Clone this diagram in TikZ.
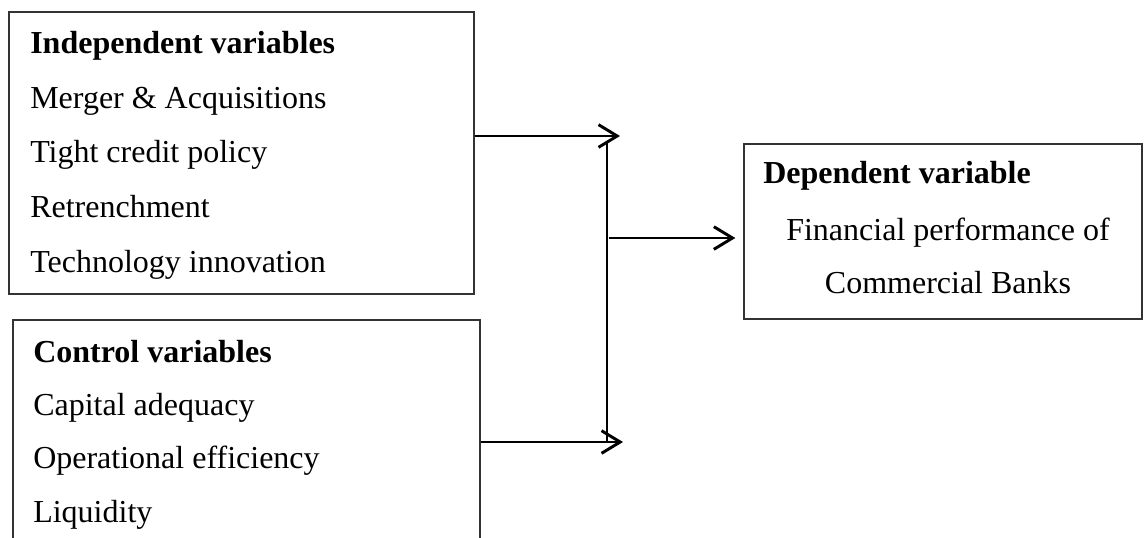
\documentclass[tikz,border=0pt]{standalone}
\usepackage{fontspec}
\setmainfont{Liberation Serif}
\usetikzlibrary{positioning,fit,arrows.meta}
\tikzset{
varbox/.style={
  draw=black!80,
  line width=1pt,
  inner sep=0pt
  },
vartext/.style={
  align=#1,
  inner sep=0pt,
  font=\fontsize{24}{41}\selectfont
  },
link/.style={
  line width=2.2pt,
  -{Straight Barb[length=14pt,width=17pt]}
  }
}

\begin{document}
\begin{tikzpicture}[x=0.75pt,y=-0.75pt]
\useasboundingbox (0,0) rectangle (1144,537);

% boxes
\node[varbox,fit={(9,12) (474,294)}] (indep) {};
\node[varbox,fit={(13,320) (480,580)}] (ctrl) {};
\node[varbox,fit={(744,144) (1142,319)}] (dep) {};

% texts (base = last line)
\node[vartext=left,anchor=base west] (indeptxt) at (30,272)
{\textbf{Independent variables}\\
Merger \& Acquisitions\\
Tight credit policy\\
Retrenchment\\
Technology innovation};

\node[vartext=left,anchor=base west,font=\fontsize{24}{40}\selectfont] (ctrltxt) at (33,522)
{\textbf{Control variables}\\
Capital adequacy\\
Operational efficiency\\
Liquidity};

\node[vartext=left,anchor=base west] (deptitle) at (763,183) {\textbf{Dependent variable}};
\node[vartext=center,anchor=base,font=\fontsize{24}{39.75}\selectfont] (deptxt) at (948,293)
{Financial performance of\\
Commercial Banks};

% connectors
\coordinate (jtop) at (620,136);
\coordinate (jbot) at (623,442);
\coordinate (btop) at (607,142);
\coordinate (bbot) at (607,442);
\coordinate (bmid) at (609,238);

\draw[link] (indep.east |- jtop) to (jtop);
\draw[link] (ctrl.east |- jbot) to (jbot);
\draw[line width=2.2pt] (btop) to (bbot);
\draw[link,shorten >=6] (bmid) to (dep.west |- bmid);

\end{tikzpicture}
\end{document}
